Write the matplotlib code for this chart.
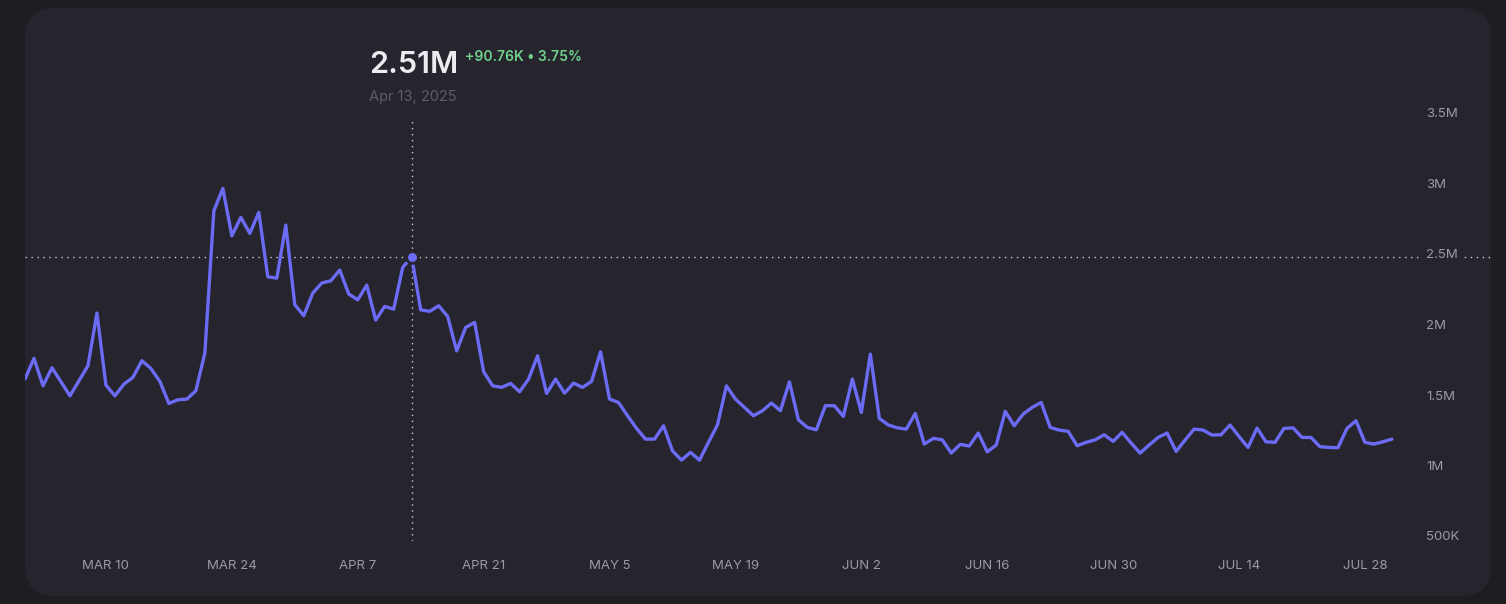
import matplotlib

matplotlib.use("Agg")
import matplotlib.pyplot as plt
import matplotlib.dates as mdates
import numpy as np
import pandas as pd
from matplotlib.patches import FancyBboxPatch
from matplotlib.ticker import FuncFormatter

W, H = 1506, 604

# daily values (millions), Mar 1 .. Jul 31 2025
DATES = pd.date_range("2025-03-01", "2025-07-31", freq="D")
VALUES_M = [
    1.645, 1.792, 1.597, 1.725, 1.626, 1.526, 1.633, 1.739, 2.113, 1.602,
    1.526, 1.609, 1.657, 1.775, 1.720, 1.628, 1.472, 1.498, 1.503, 1.562,
    1.829, 2.838, 2.997, 2.661, 2.791, 2.678, 2.827, 2.370, 2.361, 2.737,
    2.172, 2.094, 2.255, 2.326, 2.342, 2.418, 2.248, 2.207, 2.311, 2.063,
    2.160, 2.141, 2.437, 2.510, 2.136, 2.125, 2.165, 2.089, 1.845, 2.011,
    2.047, 1.697, 1.597, 1.586, 1.614, 1.555, 1.645, 1.810, 1.543, 1.645,
    1.545, 1.616, 1.586, 1.628, 1.838, 1.503, 1.479, 1.385, 1.295, 1.219,
    1.219, 1.314, 1.136, 1.070, 1.125, 1.070, 1.196, 1.319, 1.597, 1.503,
    1.444, 1.385, 1.420, 1.475, 1.420, 1.626, 1.356, 1.302, 1.285, 1.456,
    1.456, 1.380, 1.645, 1.408, 1.822, 1.366, 1.319, 1.299, 1.290, 1.401,
    1.184, 1.224, 1.214, 1.120, 1.182, 1.170, 1.262, 1.129, 1.177, 1.416,
    1.314, 1.397, 1.444, 1.479, 1.302, 1.283, 1.274, 1.172, 1.196, 1.214,
    1.250, 1.203, 1.267, 1.191, 1.120, 1.177, 1.231, 1.262, 1.132, 1.212,
    1.290, 1.283, 1.248, 1.250, 1.319, 1.238, 1.160, 1.297, 1.200, 1.196,
    1.295, 1.299, 1.231, 1.231, 1.165, 1.160, 1.158, 1.295, 1.349, 1.196,
    1.184, 1.200, 1.219,
]
HOVER_DATE = "2025-04-13"
HOVER_VALUE = "2.51M"
HOVER_CHANGE = "+90.76K \u2022 3.75%"
HOVER_LABEL = "Apr 13, 2025"

XTICKS = pd.date_range("2025-03-10", "2025-07-28", freq="14D")
YTICKS = [500e3, 1e6, 1.5e6, 2e6, 2.5e6, 3e6, 3.5e6]
YTICK_LABELS = ["500K", "1M", "1.5M", "2M", "2.5M", "3M", "3.5M"]

OUTER = "#1e1d21"
PANEL = "#26242d"
LINE = "#6b6bf5"
TICK = "#9c9aa5"
FONT = ["Inter", "DejaVu Sans"]


def px(x, y):
    return x / W, 1 - y / H


plt.rcParams["font.family"] = FONT

fig = plt.figure(figsize=(W / 100, H / 100), dpi=100, facecolor=OUTER)

x0, y0 = px(25, 596)
x1, y1 = px(1491, 8)
panel = FancyBboxPatch((x0, y0), x1 - x0, y1 - y0, boxstyle="round,pad=0,rounding_size=0.02",
                       transform=fig.transFigure, facecolor=PANEL, edgecolor="none",
                       mutation_aspect=W / H, zorder=-10)
fig.patches.append(panel)

# axes: left edge = panel edge, y range 500K..3.5M
ax_l, ax_b = px(25, 540.5)
ax_r, ax_t = px(1491, 117.5)
ax = fig.add_axes([ax_l, ax_b, ax_r - ax_l, ax_t - ax_b])
ax.set_facecolor("none")
for s in ax.spines.values():
    s.set_visible(False)

values = np.array(VALUES_M) * 1e6
ax.plot(DATES, values, color=LINE, lw=2.4, solid_joinstyle="round", solid_capstyle="round", zorder=3)

day_px = (1366 - 107) / 140.0
right_days = (1491 - 25) / day_px
ax.set_xlim(mdates.date2num(DATES[0]), mdates.date2num(DATES[0]) + right_days)
ax.set_ylim(500e3, 3.5e6)

hx = pd.Timestamp(HOVER_DATE)
hy = values[list(DATES).index(hx)]
dot_style = dict(color="#cfcdd6", lw=1.0, dashes=(1, 3.3))
ax.axhline(hy, zorder=1, **dot_style)
ax.axvline(hx, zorder=1, **dot_style)
ax.plot([hx], [hy], "o", ms=8.5, color=LINE, mec=PANEL, mew=2.0, zorder=4)

ax.set_xticks(XTICKS)
ax.xaxis.set_major_formatter(FuncFormatter(
    lambda v, pos: f"{mdates.num2date(v):%b} {mdates.num2date(v).day}".upper()))
ax.tick_params(axis="x", length=0, pad=14, labelsize=9.5, labelcolor=TICK)

ax.yaxis.tick_right()
ax.set_yticks(YTICKS, YTICK_LABELS)
ax.tick_params(axis="y", length=0, pad=-46.8, labelsize=9.5, labelcolor=TICK)
for lab in ax.get_yticklabels():
    lab.set_verticalalignment("baseline")
    if lab.get_text() == "2.5M":
        lab.set_bbox(dict(facecolor=PANEL, edgecolor="none", pad=2))
ax.grid(False)

fig.text(*px(369, 73.3), HOVER_VALUE, ha="left", va="baseline", fontsize=22,
         fontweight="semibold", color="#ecebf0")
fig.text(*px(465, 60.7), HOVER_CHANGE, ha="left", va="baseline", fontsize=10,
         fontweight="semibold", color="#70d28d")
fig.text(*px(369, 101.5), HOVER_LABEL, ha="left", va="baseline", fontsize=10.5,
         color="#5e5c66")

fig.savefig("out.png", dpi=100, facecolor=OUTER)
